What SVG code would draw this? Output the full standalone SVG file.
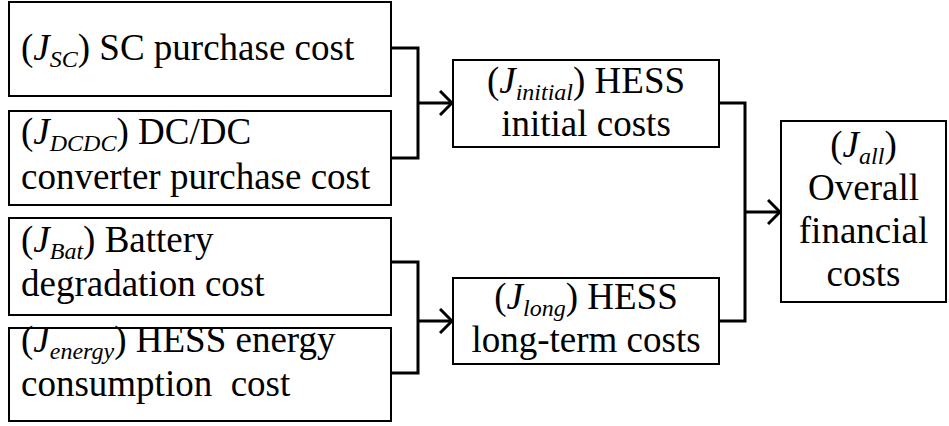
<svg xmlns="http://www.w3.org/2000/svg" width="949" height="426" viewBox="0 0 949 426">
<style>
.box{fill:#fff;stroke:#000;stroke-width:2}
text{font-family:"Liberation Serif",Tinos,"Times New Roman",Times,"Nimbus Roman","Noto Serif","DejaVu Serif",serif;font-size:37px;fill:#000}
.c{text-anchor:middle}
.i{font-style:italic}
.s{font-style:italic;font-size:24px}
.ln{fill:none;stroke:#000;stroke-width:3}
</style>
<defs>
<marker id="arr" viewBox="0 0 14 26" refX="13" refY="13" markerWidth="14" markerHeight="26" markerUnits="userSpaceOnUse" orient="auto">
<path d="M1,1 L13,13 L1,25" fill="none" stroke="#000" stroke-width="3"/>
</marker>
</defs>
<g id="connectors">
<path class="ln" d="M391,48 H418 V158 H391"/>
<path class="ln" d="M418,103 H452" marker-end="url(#arr)"/>
<path class="ln" d="M391,262 H418 V373 H391"/>
<path class="ln" d="M418,321 H452" marker-end="url(#arr)"/>
<path class="ln" d="M719,103 H745 V321 H719"/>
<path class="ln" d="M745,212 H780" marker-end="url(#arr)"/>
</g>
<g id="n_sc">
<rect class="box" x="9" y="2" width="382" height="94"/>
<text x="21" y="60">(<tspan class="i">J</tspan><tspan class="s" dy="7">SC</tspan><tspan dy="-7">) SC purchase cost</tspan></text>
</g>
<g id="n_dcdc">
<rect class="box" x="9" y="111" width="382" height="94"/>
<text x="21" y="144">(<tspan class="i">J</tspan><tspan class="s" dy="7">DCDC</tspan><tspan dy="-7">) DC/DC</tspan></text>
<text x="21" y="189">converter purchase cost</text>
</g>
<g id="n_bat">
<rect class="box" x="9" y="218" width="382" height="97"/>
<text x="21" y="252">(<tspan class="i">J</tspan><tspan class="s" dy="7">Bat</tspan><tspan dy="-7">) Battery</tspan></text>
<text x="21" y="296">degradation cost</text>
</g>
<g id="n_energy">
<rect class="box" x="9" y="328" width="382" height="93"/>
<text x="21" y="352">(<tspan class="i">J</tspan><tspan class="s" dy="7">energy</tspan><tspan dy="-7">) HESS energy</tspan></text>
<text x="21" y="396" xml:space="preserve">consumption  cost</text>
</g>
<g id="n_initial">
<rect class="box" x="453" y="60" width="266" height="87"/>
<text class="c" x="586" y="93">(<tspan class="i">J</tspan><tspan class="s" dy="7">initial</tspan><tspan dy="-7">) HESS</tspan></text>
<text class="c" x="586" y="136">initial costs</text>
</g>
<g id="n_long">
<rect class="box" x="453" y="278" width="266" height="86"/>
<text class="c" x="586" y="309">(<tspan class="i">J</tspan><tspan class="s" dy="7">long</tspan><tspan dy="-7">) HESS</tspan></text>
<text class="c" x="586" y="352">long-term costs</text>
</g>
<g id="n_all">
<rect class="box" x="781" y="121" width="165" height="181"/>
<text class="c" x="863.5" y="157">(<tspan class="i">J</tspan><tspan class="s" dy="7">all</tspan><tspan dy="-7">)</tspan></text>
<text class="c" x="863.5" y="200">Overall</text>
<text class="c" x="863.5" y="243">financial</text>
<text class="c" x="863.5" y="286">costs</text>
</g>
</svg>
